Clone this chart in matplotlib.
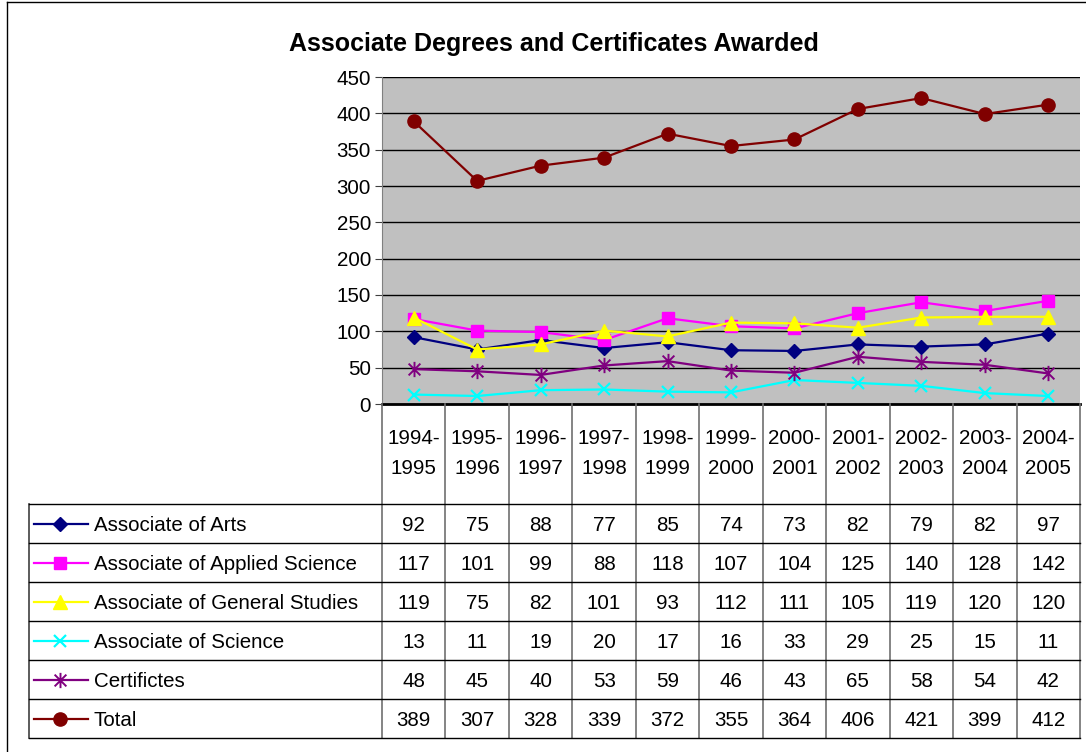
import numpy as np
import matplotlib
matplotlib.use('Agg')
import matplotlib.pyplot as plt
from matplotlib.path import Path

plt.rcParams['font.family'] = ['Liberation Sans', 'DejaVu Sans']

years = ['1994-\n1995', '1995-\n1996', '1996-\n1997', '1997-\n1998', '1998-\n1999',
         '1999-\n2000', '2000-\n2001', '2001-\n2002', '2002-\n2003', '2003-\n2004',
         '2004-\n2005']
series_names = ['Associate of Arts', 'Associate of Applied Science',
                'Associate of General Studies', 'Associate of Science',
                'Certifictes', 'Total']
arts = [92, 75, 88, 77, 85, 74, 73, 82, 79, 82, 97]
applied = [117, 101, 99, 88, 118, 107, 104, 125, 140, 128, 142]
general = [119, 75, 82, 101, 93, 112, 111, 105, 119, 120, 120]
science = [13, 11, 19, 20, 17, 16, 33, 29, 25, 15, 11]
certs = [48, 45, 40, 53, 59, 46, 43, 65, 58, 54, 42]
total = [389, 307, 328, 339, 372, 355, 364, 406, 421, 399, 412]

# excel style asterisk: an x plus a vertical bar
ast = Path([(-1, -1), (1, 1), (-1, 1), (1, -1), (0, -1.3), (0, 1.3)],
           [Path.MOVETO, Path.LINETO, Path.MOVETO, Path.LINETO, Path.MOVETO, Path.LINETO])

styles = [
    dict(color='#000080', marker='D', ms=7.5),
    dict(color='#FF00FF', marker='s', ms=8),
    dict(color='#FFFF00', marker='^', ms=10),
    dict(color='#00FFFF', marker='x', ms=8.5, mew=1.6),
    dict(color='#800080', marker=ast, ms=11, mew=1.4),
    dict(color='#800000', marker='o', ms=9.5),
]
data = [arts, applied, general, science, certs, total]

W, H = 1086, 752
FS = 14.8
fig = plt.figure(figsize=(W / 100, H / 100), dpi=100)

def fx(px):
    return px / W

def fy(py):
    return 1 - py / H

# outer chart frame
fig.add_artist(plt.Line2D([fx(7), fx(7)], [fy(2), fy(752)], color='black', lw=1))
fig.add_artist(plt.Line2D([fx(7), fx(1086)], [fy(2), fy(2)], color='black', lw=1))

fig.text(fx(554), fy(44), 'Associate Degrees and Certificates Awarded',
         ha='center', va='center', fontsize=18, fontweight='bold')

# main plot area
L, R, T, B = 382, 1080, 77, 404
ax = fig.add_axes([fx(L), fy(B), fx(R - L), (B - T) / H])
ax.set_facecolor('#C0C0C0')
x = np.arange(len(years))
for vals, st in zip(data, styles):
    ax.plot(x, vals, color=st['color'], lw=1.6, marker=st['marker'],
            ms=st['ms'], mew=st.get('mew', 1), mfc=st['color'], mec=st['color'],
            clip_on=False, zorder=3)
ax.set_xlim(-0.5, 10.5)
ax.set_ylim(0, 450)
ax.set_yticks(range(0, 451, 50))
ax.yaxis.grid(True, color='black', lw=1)
ax.set_axisbelow(True)
ax.set_xticks([])
ax.tick_params(axis='y', labelsize=FS, length=5, color='#404040', pad=3)
for s in ['top', 'right']:
    ax.spines[s].set_visible(False)
ax.spines['left'].set_color('#808080')
ax.spines['bottom'].set_linewidth(2)

# data table under the chart
TL, TT, TB = 29, 404, 738
col_w = (R - L) / 11.0
left_units = (L - TL) / col_w
tx = fig.add_axes([fx(TL), fy(TB), fx(R - TL), (TB - TT) / H])
tx.set_xlim(-0.5 - left_units, 10.5)
tx.set_ylim(TB, TT)
tx.axis('off')

row_top = 504
row_h = (TB - row_top) / 6.0
xl = -0.5 - left_units

# vertical lines
for i in range(12):
    tx.plot([i - 0.5, i - 0.5], [TT, TB], color='#707070', lw=1.2, clip_on=False)
tx.plot([xl, xl], [row_top, TB], color='#404040', lw=1.2, clip_on=False)
# horizontal lines
for r in range(7):
    yy = row_top + r * row_h
    tx.plot([xl, 10.5], [yy, yy], color='black', lw=1, clip_on=False)

# header
for i, yr in enumerate(years):
    a, b = yr.split('\n')
    tx.text(i, 439, a, ha='center', va='center', fontsize=FS)
    tx.text(i, 468, b, ha='center', va='center', fontsize=FS)

# rows with legend keys
px_unit = 1.0 / col_w
for r, (name, vals, st) in enumerate(zip(series_names, data, styles)):
    yc = row_top + (r + 0.5) * row_h
    x0 = xl + (34 - TL) * px_unit
    x1 = xl + (88 - TL) * px_unit
    xm = xl + (60 - TL) * px_unit
    tx.plot([x0, x1], [yc, yc], color=st['color'], lw=1.6, clip_on=False)
    tx.plot([xm], [yc], color=st['color'], marker=st['marker'], ms=st['ms'],
            mew=st.get('mew', 1), mfc=st['color'], mec=st['color'], clip_on=False)
    tx.text(xl + (94 - TL) * px_unit, yc + 2, name, ha='left', va='center', fontsize=FS)
    for i, v in enumerate(vals):
        tx.text(i, yc + 2, str(v), ha='center', va='center', fontsize=FS)

fig.savefig('out.png', dpi=100)
